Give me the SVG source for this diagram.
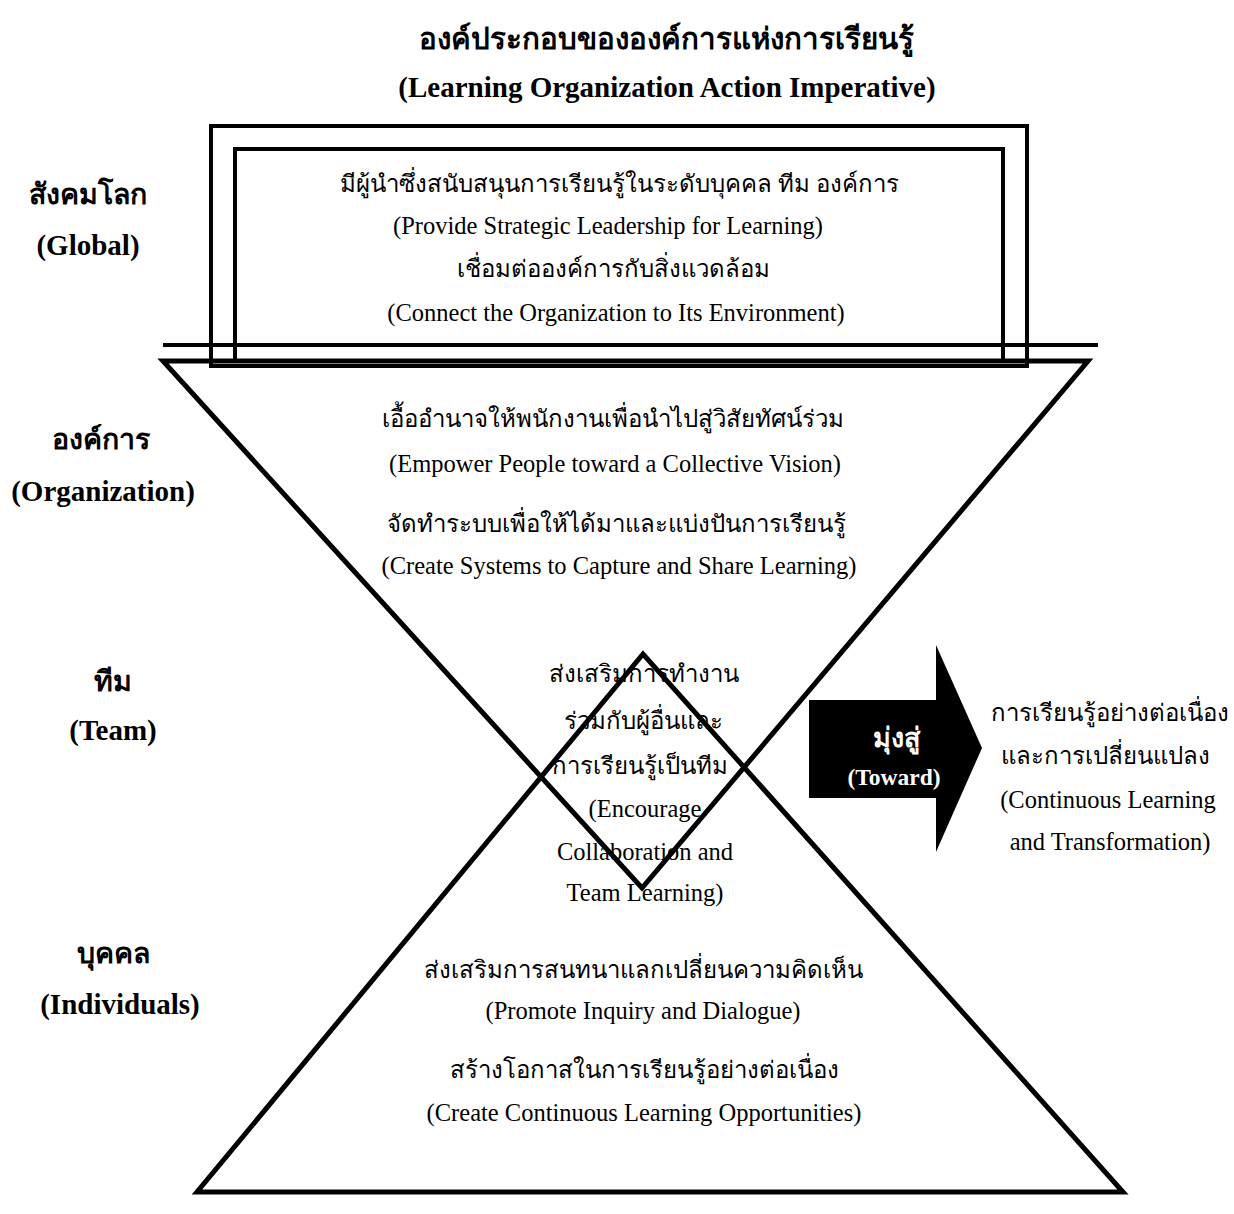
<svg xmlns="http://www.w3.org/2000/svg" width="1234" height="1214" viewBox="0 0 1234 1214">
<style>
.th{font-family:"Liberation Serif","Noto Sans","DejaVu Sans",serif;font-size:24px;fill:#000;text-anchor:middle}
.en{font-family:"Liberation Serif",serif;font-size:24.5px;fill:#000;text-anchor:middle}
.b{font-weight:bold}
.w{fill:#fff}
.lt{font-size:28.5px}
.le{font-size:29px}
.ln{fill:none;stroke:#000;stroke-width:4}
.tri{fill:none;stroke:#000;stroke-width:5;stroke-linejoin:miter}
</style>
<rect width="1234" height="1214" fill="#fff"/>
<g id="title">
<text class="th b" x="666" y="49" style="font-size:29.5px">องค์ประกอบขององค์การแห่งการเรียนรู้</text>
<text class="en b" x="667" y="97" style="font-size:29px">(Learning Organization Action Imperative)</text>
</g>
<g id="connectors">
<rect class="ln" x="211" y="126" width="816" height="240"/>
<polyline class="ln" points="235,360 235,149 1003,149 1003,360"/>
<line class="ln" x1="163" y1="345" x2="1098" y2="345"/>
<polygon class="tri" points="163,361 1088,361 642,888"/>
<polygon class="tri" points="197,1192 1123,1192 643,654"/>
</g>
<g id="labels-left">
<text class="th b lt" x="88" y="204">สังคมโลก</text>
<text class="en b le" x="88" y="255">(Global)</text>
<text class="th b lt" x="101" y="449">องค์การ</text>
<text class="en b le" x="103" y="501">(Organization)</text>
<text class="th b lt" x="113" y="691">ทีม</text>
<text class="en b le" x="113" y="740">(Team)</text>
<text class="th b lt" x="113" y="963">บุคคล</text>
<text class="en b le" x="120" y="1014">(Individuals)</text>
</g>
<g id="node-global">
<text class="th" x="619" y="192">มีผู้นำซึ่งสนับสนุนการเรียนรู้ในระดับบุคคล ทีม องค์การ</text>
<text class="en" x="608" y="234">(Provide Strategic Leadership for Learning)</text>
<text class="th" x="613" y="277">เชื่อมต่อองค์การกับสิ่งแวดล้อม</text>
<text class="en" x="616" y="321">(Connect the Organization to Its Environment)</text>
</g>
<g id="node-organization">
<text class="th" x="613" y="427">เอื้ออำนาจให้พนักงานเพื่อนำไปสู่วิสัยทัศน์ร่วม</text>
<text class="en" x="615" y="472">(Empower People toward a Collective Vision)</text>
<text class="th" x="616" y="532">จัดทำระบบเพื่อให้ได้มาและแบ่งปันการเรียนรู้</text>
<text class="en" x="619" y="574">(Create Systems to Capture and Share Learning)</text>
</g>
<g id="node-team">
<text class="th" x="644" y="682">ส่งเสริมการทำงาน</text>
<text class="th" x="643" y="729">ร่วมกับผู้อื่นและ</text>
<text class="th" x="640" y="774">การเรียนรู้เป็นทีม</text>
<text class="en" x="645" y="817">(Encourage</text>
<text class="en" x="645" y="860">Collaboration and</text>
<text class="en" x="645" y="901">Team Learning)</text>
</g>
<g id="node-individuals">
<text class="th" x="643" y="978">ส่งเสริมการสนทนาแลกเปลี่ยนความคิดเห็น</text>
<text class="en" x="643" y="1019">(Promote Inquiry and Dialogue)</text>
<text class="th" x="644" y="1078">สร้างโอกาสในการเรียนรู้อย่างต่อเนื่อง</text>
<text class="en" x="644" y="1121">(Create Continuous Learning Opportunities)</text>
</g>
<g id="arrow-toward">
<polygon fill="#000" points="809,700 936,700 936,645 982,748 936,852 936,798 809,798"/>
<text class="th b w" x="896" y="747" style="font-size:27px">มุ่งสู่</text>
<text class="en b w" x="894" y="785" style="font-size:23.5px">(Toward)</text>
</g>
<g id="node-result">
<text class="th" x="1110" y="721">การเรียนรู้อย่างต่อเนื่อง</text>
<text class="th" x="1105" y="764">และการเปลี่ยนแปลง</text>
<text class="en" x="1108" y="808">(Continuous Learning</text>
<text class="en" x="1110" y="850">and Transformation)</text>
</g>
</svg>
